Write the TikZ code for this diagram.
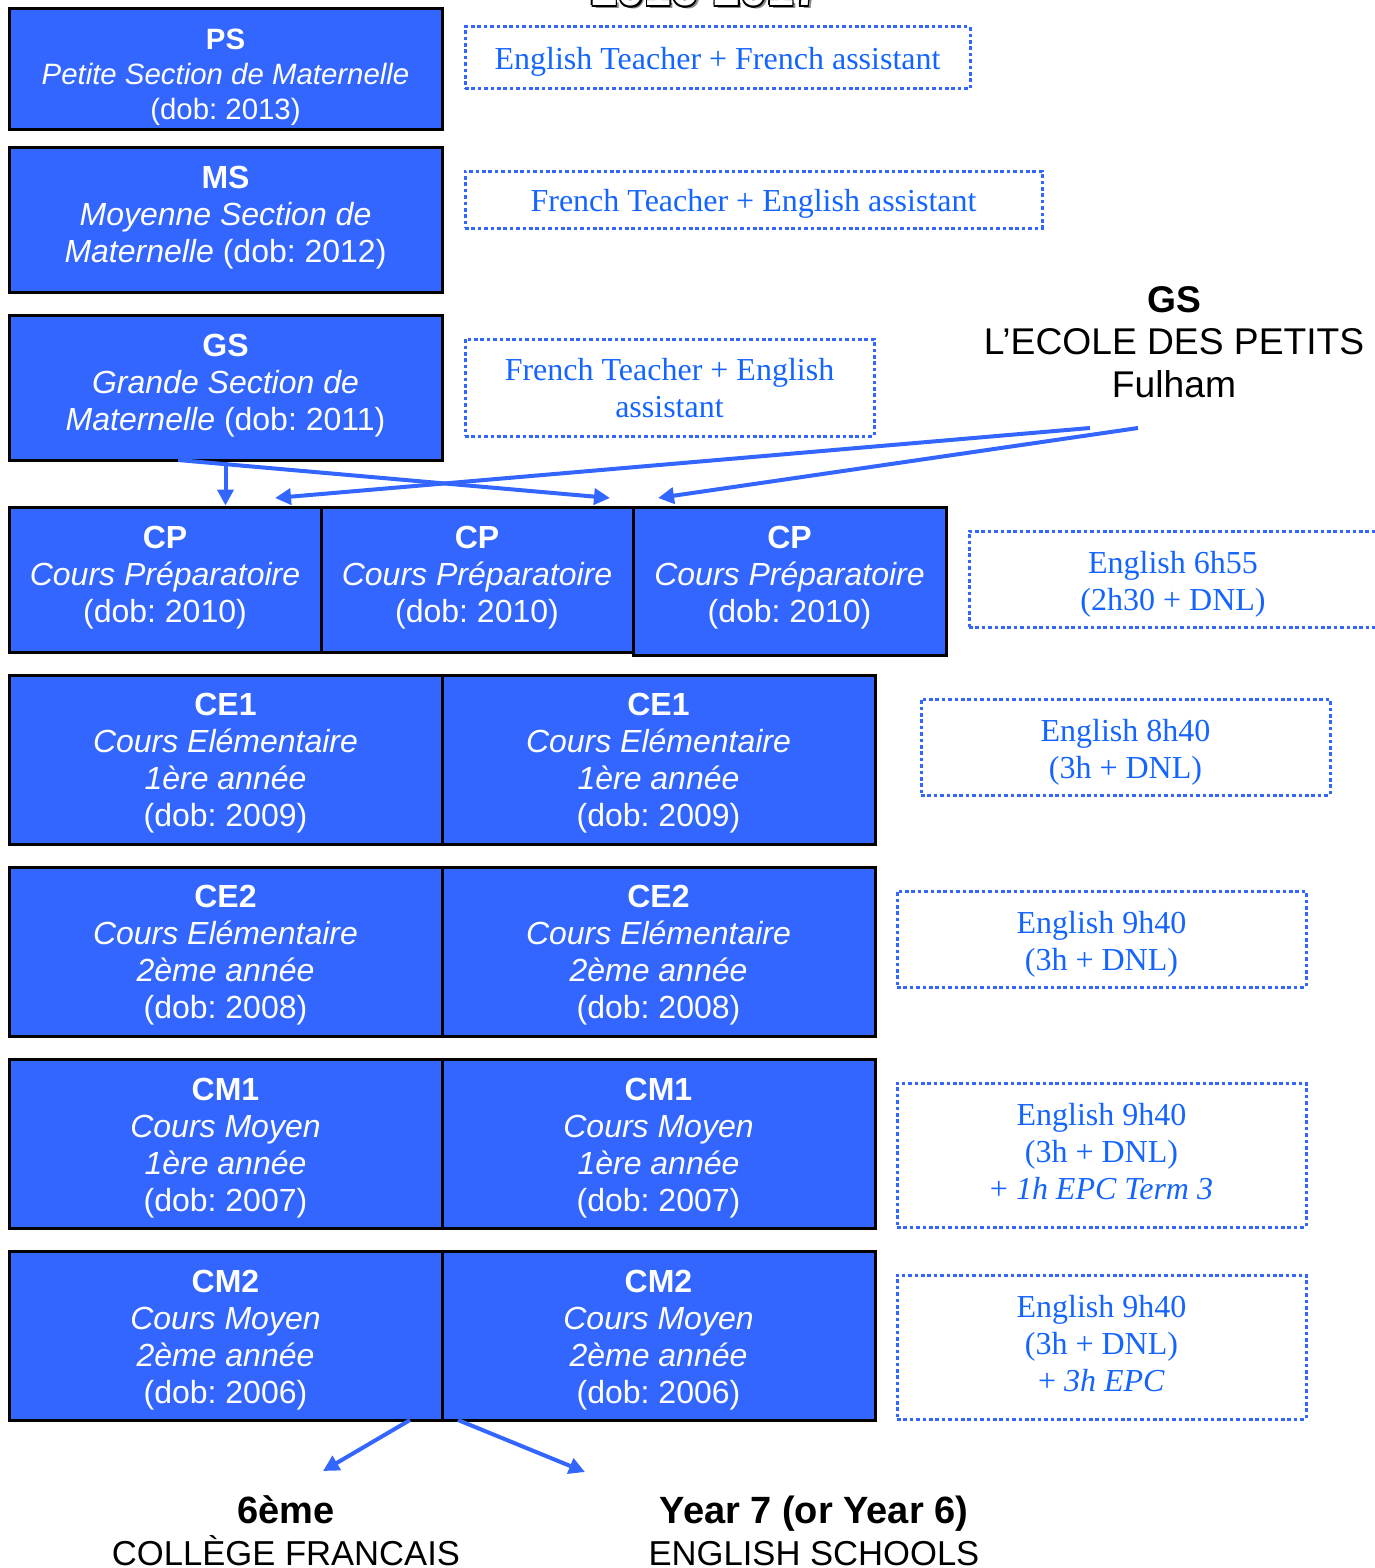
\documentclass[tikz,border=0pt]{standalone}
\usepackage{fontspec}
\setmainfont{Liberation Sans}
\newfontfamily\tnr{Liberation Serif}
\usetikzlibrary{arrows.meta}
\frenchspacing
\definecolor{cblue}{RGB}{51,102,255}
\definecolor{tblue}{RGB}{20,100,255}
\tikzset{
  cls/.style={draw=black, line width=1.5pt, fill=cblue, inner sep=0pt},
  clstxt/.style={text=white, align=center, inner sep=0pt, font=\frenchspacing\fontsize{16}{18.5}\selectfont},
  psb/.style={cls},
  psbtxt/.style={clstxt, font=\frenchspacing\fontsize{14.7}{17.4}\selectfont},
  dbox/.style={draw=cblue, line width=1.5pt, dash pattern=on 1.8pt off 1.4pt, inner sep=0pt},
  dboxtxt/.style={text=tblue, align=center, inner sep=0pt, font=\tnr\fontsize{16}{18.5}\selectfont},
  lbl/.style={align=center, inner sep=0pt, text=black, font=\fontsize{18.6}{21.3}\selectfont},
  blbl/.style={align=center, inner sep=0pt, text=black, font=\fontsize{17.3}{20.8}\selectfont},
  arr/.style={draw=cblue, line width=2pt, -{Triangle[length=8pt,width=8pt]}},
  ttl/.style={inner sep=0pt, anchor=base, font=\bfseries\fontsize{24}{28}\selectfont}
}
\newcommand\gbox[8]{%
  \node[#2, minimum width={(#5-#3)*0.5pt}, minimum height={(#6-#4)*0.5pt}] (#1) at ({(#3+#5)/2},{(#4+#6)/2}) {};
  \node[#2txt] (#1t) at ({(#3+#5)/2},{(#4+#6)/2+#7}) {#8};}
\begin{document}
\begin{tikzpicture}[x=0.5pt,y=-0.5pt]
\useasboundingbox (0,0) rectangle (1375,1568);
% title (cut off at top)
\node[ttl, text=black!45] (tshadow) at (709,9) {2016-2017};
\foreach \dx/\dy in {-1.6/0,1.6/0,0/-1.6,0/1.6,-1.1/-1.1,1.1/1.1,-1.1/1.1,1.1/-1.1}{
  \node[ttl, text=black] at (706+\dx,6+\dy) {2016-2017};
}
\node[ttl, text=white] (title) at (706,6) {2016-2017};
% class boxes
\gbox{ps}{psb}{9}{9}{442}{130}{8}{\textbf{PS}\\\textit{Petite Section de Maternelle}\\(dob: 2013)}
\gbox{ms}{cls}{9}{147}{442}{292}{-2}{\textbf{MS}\\\textit{Moyenne Section de}\\\textit{Maternelle} (dob: 2012)}
\gbox{gs}{cls}{9}{315}{442}{460}{-2}{\textbf{GS}\\\textit{Grande Section de}\\\textit{Maternelle} (dob: 2011)}
\gbox{cpa}{cls}{9}{507}{321}{652}{-2}{\textbf{CP}\\\textit{Cours Préparatoire}\\(dob: 2010)}
\gbox{cpb}{cls}{321}{507}{633}{652}{-2}{\textbf{CP}\\\textit{Cours Préparatoire}\\(dob: 2010)}
\gbox{cpc}{cls}{633}{507}{946}{655}{-3}{\textbf{CP}\\\textit{Cours Préparatoire}\\(dob: 2010)}
\gbox{cea}{cls}{9}{675}{442}{844}{4}{\textbf{CE1}\\\textit{Cours Elémentaire}\\\textit{1ère année}\\(dob: 2009)}
\gbox{ceb}{cls}{442}{675}{875}{844}{4}{\textbf{CE1}\\\textit{Cours Elémentaire}\\\textit{1ère année}\\(dob: 2009)}
\gbox{cfa}{cls}{9}{867}{442}{1036}{4}{\textbf{CE2}\\\textit{Cours Elémentaire}\\\textit{2ème année}\\(dob: 2008)}
\gbox{cfb}{cls}{442}{867}{875}{1036}{4}{\textbf{CE2}\\\textit{Cours Elémentaire}\\\textit{2ème année}\\(dob: 2008)}
\gbox{cma}{cls}{9}{1059}{442}{1228}{5}{\textbf{CM1}\\\textit{Cours Moyen}\\\textit{1ère année}\\(dob: 2007)}
\gbox{cmb}{cls}{442}{1059}{875}{1228}{5}{\textbf{CM1}\\\textit{Cours Moyen}\\\textit{1ère année}\\(dob: 2007)}
\gbox{cna}{cls}{9}{1251}{442}{1420}{5}{\textbf{CM2}\\\textit{Cours Moyen}\\\textit{2ème année}\\(dob: 2006)}
\gbox{cnb}{cls}{442}{1251}{875}{1420}{5}{\textbf{CM2}\\\textit{Cours Moyen}\\\textit{2ème année}\\(dob: 2006)}
% dotted info boxes
\gbox{d1}{dbox}{465}{27}{970}{89}{4}{English Teacher + French assistant}
\gbox{d2}{dbox}{465}{171}{1042}{228}{4}{French Teacher + English assistant}
\gbox{d3}{dbox}{465}{339}{874}{436}{1}{French Teacher + English\\assistant}
\gbox{d4}{dbox}{969}{531}{1377}{627}{5}{English 6h55\\(2h30 + DNL)}
\gbox{d5}{dbox}{921}{699}{1330}{795}{5}{English 8h40\\(3h + DNL)}
\gbox{d6}{dbox}{897}{891}{1306}{987}{5}{English 9h40\\(3h + DNL)}
\gbox{d7}{dbox}{897}{1083}{1306}{1227}{-3}{English 9h40\\(3h + DNL)\\+ \textit{1h EPC Term 3}}
\gbox{d8}{dbox}{897}{1275}{1306}{1419}{-3}{English 9h40\\(3h + DNL)\\+ \textit{3h EPC}}
% labels
\node[lbl] (ecole) at (1174,342) {\textbf{GS}\\L’ECOLE DES PETITS\\Fulham};
\node[blbl] (college) at (286,1531) {{\bfseries\fontsize{19}{21}\selectfont 6ème}\\COLLÈGE FRANCAIS};
\node[blbl] (english) at (814,1531) {{\bfseries\fontsize{19}{21}\selectfont Year 7 (or Year 6)}\\ENGLISH SCHOOLS};
% connector end points
\coordinate (g1) at (178,460);
\coordinate (t2) at (610,498);
\coordinate (e1) at (1090,428);
\coordinate (t1) at (275,498);
\coordinate (e2) at (1138,428);
\coordinate (t3) at (658,498);
\coordinate (c1) at (410,1420);
\coordinate (c2) at (458,1420);
\coordinate (b1) at (323,1471);
\coordinate (b2) at (585,1472);
% arrows
\draw[arr] (gs.south) -- (gs.south |- cpa.north);
\draw[arr] (g1) -- (t2);
\draw[arr] (e1) -- (t1);
\draw[arr] (e2) -- (t3);
\draw[arr] (c1) -- (b1);
\draw[arr] (c2) -- (b2);
\end{tikzpicture}
\end{document}
